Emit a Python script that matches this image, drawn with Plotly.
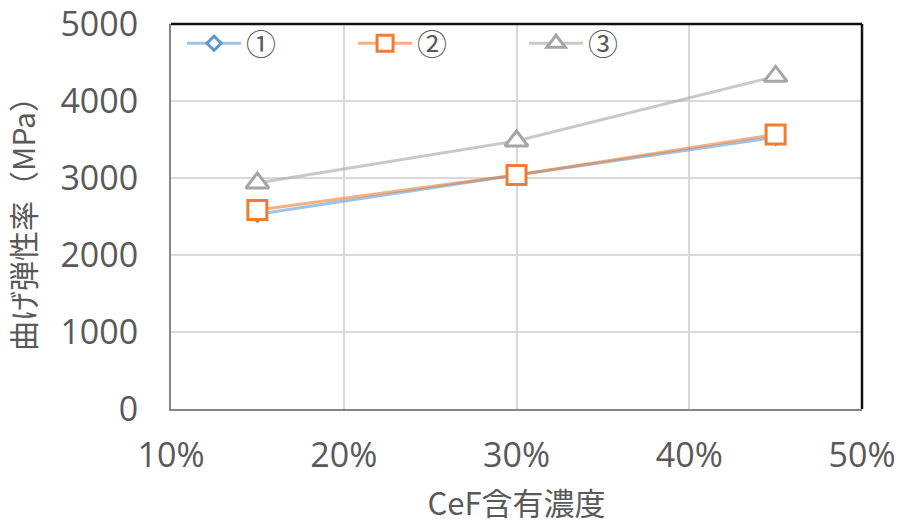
import plotly.graph_objects as go

# CeF concentration (fraction) and flexural modulus (MPa) for three samples
conc = [0.15, 0.30, 0.45]
sample_names = ["①", "②", "③"]
modulus_1 = [2530, 3040, 3530]
modulus_2 = [2585, 3040, 3565]
modulus_3 = [2935, 3480, 4320]

x_ticks = [0.1, 0.2, 0.3, 0.4, 0.5]
y_ticks = [0, 1000, 2000, 3000, 4000, 5000]

TEXT = "#595959"
LATIN = "Open Sans, Noto Sans CJK JP, sans-serif"
CJK = "Noto Sans CJK JP, sans-serif"

series = [
    (modulus_1, "diamond", "#5B9BD5", "rgba(91,155,213,0.6)", 11),
    (modulus_2, "square", "#ED7D31", "rgba(237,125,49,0.6)", 19),
    (modulus_3, "triangle-up", "#A5A5A5", "rgba(165,165,165,0.6)", 20),
]

fig = go.Figure()
for name, (vals, sym, mcol, lcol, size) in zip(sample_names, series):
    fig.add_trace(go.Scatter(
        x=conc, y=vals, name=name, mode="lines+markers",
        line=dict(color=lcol, width=3),
        marker=dict(symbol=sym, size=size, color="white",
                    line=dict(color=mcol, width=3)),
    ))

fig.update_layout(
    width=904, height=530,
    margin=dict(l=171, r=42, t=24, b=121, autoexpand=False),
    paper_bgcolor="white", plot_bgcolor="white",
    font=dict(family=LATIN, color=TEXT, size=34),
    showlegend=True,
    legend=dict(
        orientation="h", x=0.016, xanchor="left", y=0.95, yanchor="middle",
        bgcolor="rgba(0,0,0,0)", itemwidth=54, entrywidth=102,
        font=dict(family=CJK, size=30, color=TEXT),
        traceorder="normal",
    ),
    xaxis=dict(
        range=[0.1, 0.5], tickvals=x_ticks, tickformat=".0%", automargin=False,
        showgrid=True, gridcolor="#D9D9D9", gridwidth=2,
        showline=True, linecolor="#858585", linewidth=2,
        zeroline=False, ticks="", ticklabelstandoff=15, ticklabeloverflow="allow",
        title=dict(text="CeF含有濃度", font=dict(family=CJK, size=31, color=TEXT), standoff=18),
    ),
    yaxis=dict(
        range=[0, 5000], tickvals=y_ticks, automargin=False,
        showgrid=True, gridcolor="#D9D9D9", gridwidth=2,
        showline=True, linecolor="#858585", linewidth=2,
        zeroline=False, ticks="", ticklabelstandoff=24, ticklabeloverflow="allow",
        title=dict(text="曲げ弾性率（MPa）", font=dict(family=CJK, size=30, color=TEXT), standoff=18),
    ),
    shapes=[
        dict(type="line", xref="x domain", yref="y domain", x0=0, x1=1, y0=1, y1=1,
             line=dict(color="#111111", width=2.5)),
        dict(type="line", xref="x domain", yref="y domain", x0=1, x1=1, y0=0, y1=1,
             line=dict(color="#111111", width=2.5)),
    ],
)

fig.write_html("out.html")
